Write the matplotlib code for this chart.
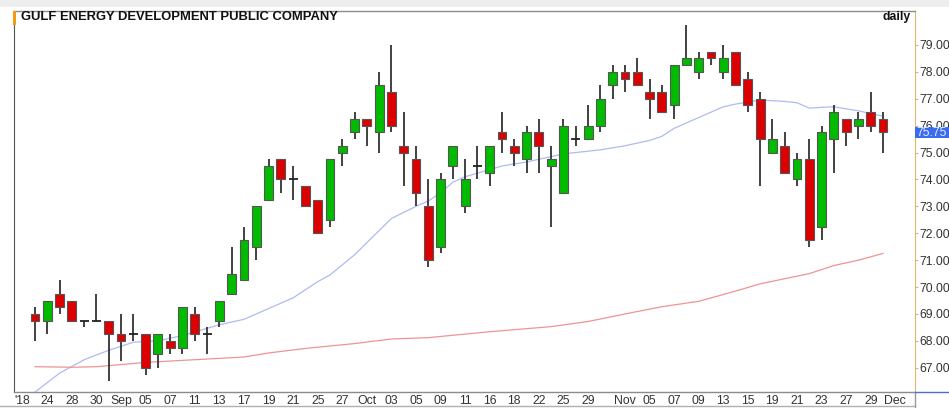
import matplotlib
matplotlib.use("Agg")
import matplotlib.pyplot as plt
from matplotlib.lines import Line2D
from matplotlib.patches import Rectangle

# daily candles, Aug 22 - Nov 30 2018 (one entry per trading day)
opens = [69.0, 68.75, 69.75, 69.5, 68.75, 68.75, 68.75, 68.25, 68.25, 68.25,
         67.5, 68.0, 67.75, 69.0, 68.25, 68.75, 69.75, 70.25, 71.5, 73.25,
         74.75, 74.0, 73.75, 73.25, 72.5, 75.0, 75.75, 76.25, 75.75, 77.25,
         75.25, 74.75, 73.0, 71.5, 74.5, 73.0, 74.5, 74.25, 75.75, 75.25,
         74.75, 75.75, 74.5, 73.5, 75.5, 75.5, 76.0, 77.5, 78.0, 78.0,
         77.25, 77.25, 76.75, 78.25, 78.0, 78.75, 78.0, 78.75, 77.75, 77.0,
         75.0, 75.25, 74.0, 74.75, 72.25, 75.5, 76.25, 76.0, 76.5, 76.25]
highs = [69.25, 69.5, 70.25, 69.5, 68.75, 69.75, 68.75, 69.0, 69.0, 68.25,
         68.25, 68.25, 69.25, 69.25, 68.5, 69.5, 71.5, 72.25, 73.0, 74.75,
         74.75, 74.5, 73.75, 73.25, 74.75, 75.5, 76.5, 76.25, 78.0, 79.0,
         76.5, 75.25, 74.0, 74.25, 75.25, 74.75, 75.25, 75.25, 76.5, 75.5,
         76.0, 76.25, 75.25, 76.25, 76.0, 76.75, 77.5, 78.25, 78.25, 78.5,
         77.75, 77.5, 78.25, 79.75, 78.75, 78.75, 79.0, 78.75, 78.0, 77.25,
         76.25, 75.75, 75.0, 75.5, 76.0, 76.75, 76.25, 76.5, 77.25, 76.5]
lows = [68.0, 68.25, 69.0, 68.75, 68.5, 68.75, 66.5, 67.25, 68.0, 66.75,
        67.0, 67.5, 67.5, 68.0, 67.5, 68.5, 69.75, 70.25, 71.0, 73.25,
        73.5, 73.25, 73.0, 72.0, 72.25, 74.5, 75.5, 75.25, 75.0, 75.75,
        73.75, 73.0, 70.75, 71.25, 74.0, 72.75, 74.0, 73.75, 75.0, 74.5,
        74.25, 74.25, 72.25, 73.5, 75.25, 75.5, 75.75, 77.0, 77.25, 77.5,
        76.25, 76.5, 76.25, 78.25, 77.75, 78.25, 77.75, 77.5, 76.5, 73.75,
        75.0, 74.25, 73.75, 71.5, 71.75, 74.25, 75.25, 75.5, 75.75, 75.0]
closes = [68.75, 69.5, 69.25, 68.75, 68.75, 68.75, 68.25, 68.0, 68.25, 67.0,
          68.25, 67.75, 69.25, 68.25, 68.25, 69.5, 70.5, 71.75, 73.0, 74.5,
          74.0, 74.0, 73.0, 72.0, 74.75, 75.25, 76.25, 76.0, 77.5, 76.0,
          75.0, 73.5, 71.0, 74.0, 75.25, 74.0, 74.5, 75.25, 75.5, 75.0,
          75.75, 75.25, 74.75, 76.0, 75.5, 76.0, 77.0, 78.0, 77.75, 77.5,
          77.0, 76.5, 78.25, 78.5, 78.5, 78.5, 78.5, 77.5, 76.75, 75.5,
          75.5, 74.25, 74.75, 71.75, 75.75, 76.5, 75.75, 76.25, 76.0, 75.75]

# moving averages (day index, price)
ma_short_day = [0, 2, 4, 6, 8, 10, 12, 15, 17, 19, 21, 23, 24, 26, 28, 29, 31, 32,
                33, 34, 35, 38, 40, 43, 46, 48, 50, 51, 52, 54, 56, 57, 59, 61,
                62, 63, 64, 65, 67, 69]
ma_short_val = [66.1, 66.8, 67.3, 67.65, 67.95, 68.0, 68.2, 68.6, 68.8, 69.2, 69.6,
                70.2, 70.45, 71.2, 72.1, 72.55, 73.0, 73.2, 73.5, 73.9, 74.1, 74.5,
                74.65, 74.95, 75.1, 75.25, 75.45, 75.6, 75.9, 76.3, 76.7, 76.8,
                76.95, 76.9, 76.85, 76.65, 76.68, 76.7, 76.55, 76.35]
ma_long_day = [0, 3, 5, 9, 13, 17, 19, 22, 26, 29, 32, 37, 42, 45, 48, 51, 54, 57,
               59, 63, 65, 67, 69]
ma_long_val = [67.04, 67.02, 67.04, 67.2, 67.3, 67.4, 67.55, 67.72, 67.9, 68.07,
               68.12, 68.34, 68.53, 68.72, 69.0, 69.27, 69.47, 69.85, 70.12, 70.5,
               70.8, 71.0, 71.25]

tick_days = [-1, 1, 3, 5, 7, 9, 11, 13, 15, 17, 19, 21, 23, 25, 27, 29, 31, 33, 35,
             37, 39, 41, 43, 45, 48, 50, 52, 54, 56, 58, 60, 62, 64, 66, 68, 70]
tick_labels = ["'18", "24", "28", "30", "Sep", "05", "07", "11", "13", "17", "19",
               "21", "25", "27", "Oct", "03", "05", "09", "11", "16", "18", "22",
               "25", "29", "Nov", "05", "07", "09", "13", "15", "19", "21", "23",
               "27", "29", "Dec"]
price_ticks = [67, 68, 69, 70, 71, 72, 73, 74, 75, 76, 77, 78, 79]

W, H = 949, 408
plt.rcParams["font.family"] = ["Liberation Sans", "DejaVu Sans"]
fig = plt.figure(figsize=(W / 100, H / 100), dpi=100)
fig.patch.set_facecolor("white")
fig.add_artist(Rectangle((0, 1 - 7 / H), 1, 7 / H, transform=fig.transFigure,
                         color="#eeeeee", lw=0))

ax = fig.add_axes([14 / W, (H - 392) / H, (915 - 14) / W, (392 - 11) / H])

green, red = "#00bb00", "#dd0000"
bw = 0.72
for i in range(len(opens)):
    o, h, l, c = opens[i], highs[i], lows[i], closes[i]
    ax.vlines(i, l, h, color="#333333", lw=1.3, zorder=2)
    if o == c:
        ax.hlines(o, i - bw / 2, i + bw / 2, color="#222222", lw=1.3, zorder=3)
    else:
        ax.add_patch(Rectangle((i - bw / 2, min(o, c)), bw, abs(c - o),
                               facecolor=green if c > o else red,
                               edgecolor="#555555", lw=0.8, zorder=3))

ax.plot(ma_short_day, ma_short_val, color="#adbcef", lw=0.9, zorder=1)
ax.plot(ma_long_day, ma_long_val, color="#ee9494", lw=0.9, zorder=1)

ax.set_xlim(-1.71, 71.6)
ax.set_ylim(66.1, 80.26)
ax.set_xticks(tick_days)
ax.set_xticklabels(tick_labels)
ax.set_yticks(price_ticks)
ax.set_yticklabels([f"{v:.2f}" for v in price_ticks])
ax.yaxis.tick_right()
ax.tick_params(axis="x", length=0, pad=2.5, labelsize=8.8, colors="#333333")
ax.tick_params(axis="y", length=2, width=0.8, pad=1.5, labelsize=8.8,
               colors="#333333")
ax.tick_params(axis="y", color="#d8b870")

for side in ["top", "bottom"]:
    ax.spines[side].set_color("#8c8c8c")
    ax.spines[side].set_linewidth(1.0)
ax.spines["left"].set_color("#555555")
ax.spines["left"].set_linestyle((0, (1, 1)))
ax.spines["right"].set_color("#d8b870")
ax.spines["right"].set_linestyle((0, (1, 1)))

# small orange marker at the top of the left border
fig.add_artist(Rectangle((13 / W, 1 - 25 / H), 3 / W, 14 / H,
                         transform=fig.transFigure, color="#f39c12", lw=0))

# frame lines below the date row and around the price scale corner
fig.add_artist(Line2D([0, 915 / W], [1 - 406 / H, 1 - 406 / H],
                      transform=fig.transFigure, color="#b0b0b0", lw=1))
fig.add_artist(Line2D([915 / W, 915 / W], [1 - 392 / H, 0],
                      transform=fig.transFigure, color="#999999", lw=1))
fig.add_artist(Line2D([915 / W, 1], [1 - 392 / H, 1 - 392 / H],
                      transform=fig.transFigure, color="#4a6fd8", lw=1))

fig.text(21 / W, 1 - 17 / H, "GULF ENERGY DEVELOPMENT PUBLIC COMPANY",
         fontsize=9.35, fontweight="bold", color="#111111", va="center", ha="left")
fig.text(911 / W, 1 - 17 / H, "daily", fontsize=8.8, fontweight="bold",
         color="#111111", va="center", ha="right")

# last price flag on the price scale
fig.add_artist(Rectangle((915 / W, 1 - 138 / H), 34 / W, 11 / H,
                         transform=fig.transFigure, color="#3b6cf0", lw=0,
                         zorder=5))
fig.text(916 / W, 1 - 132.5 / H, f"{closes[-1]:.2f}", fontsize=8.8,
         color="#e8eeff", va="center", ha="left", zorder=6)

fig.savefig("out.png", dpi=100, facecolor="white")
